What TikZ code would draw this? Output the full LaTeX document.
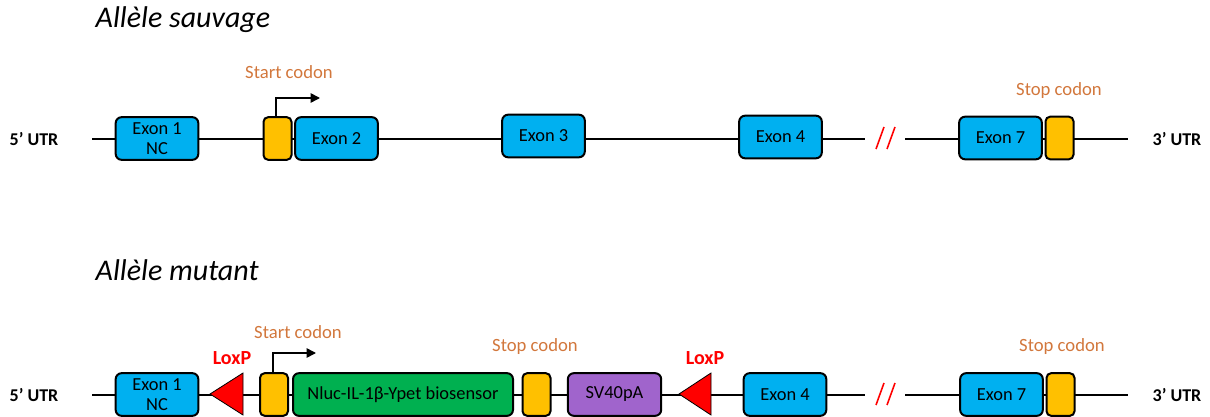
\documentclass[tikz,border=0pt]{standalone}
\usepackage{fontspec}
\setmainfont{Carlito}
\usetikzlibrary{arrows.meta}
\definecolor{exblue}{HTML}{00B0F0}
\definecolor{cdyellow}{HTML}{FFC000}
\definecolor{bsgreen}{HTML}{00B050}
\definecolor{svpurple}{HTML}{A064CC}
\definecolor{cdorange}{HTML}{D2773C}
\definecolor{loxred}{HTML}{FF0000}
\tikzset{
  gene/.style={draw=black, line width=1.5pt, rounded corners=4.5pt, inner sep=0pt, outer sep=0pt, minimum height=32pt, font=\fontsize{13.8}{14.5}\selectfont, align=center},
  exon/.style={gene, fill=exblue, minimum width=62pt},
  codon/.style={gene, fill=cdyellow, minimum width=21pt, rounded corners=3.5pt},
  bio/.style={gene, fill=bsgreen, minimum width=165pt},
  sv/.style={gene, fill=svpurple, minimum width=70pt},
  dna/.style={line width=2pt, black},
  brk/.style={line width=1.2pt, loxred},
  lox/.style={fill=loxred, draw=black, line width=0.6pt},
  utr/.style={font=\fontsize{13.5}{14}\selectfont\bfseries},
  cdlabel/.style={text=cdorange, font=\fontsize{14}{15}\selectfont},
  loxlabel/.style={text=loxred, font=\fontsize{15}{16}\selectfont\bfseries},
  title/.style={font=\fontsize{22.5}{24}\selectfont\itshape, anchor=west},
  tss/.style={line width=1.2pt, -{Triangle[length=7pt,width=7pt]}}
}
\begin{document}
\begin{tikzpicture}[x=0.75pt,y=-0.75pt]
\useasboundingbox (0,0) rectangle (1210,417);
% titles
\node[title] (tw) at (91,20) {Allèle sauvage};
\node[title] (tm) at (91,270) {Allèle mutant};

% ===== wild-type allele =====
\coordinate (wa) at (92,139);
\coordinate (wb1) at (865,139);
\coordinate (wb2) at (905,139);
\coordinate (wc) at (1128,139);
\draw[dna] (wa) -- (wb1);
\draw[dna] (wb2) -- (wc);
\node[utr] (w5) at (34,139) {5’ UTR};
\node[utr] (w3) at (1177,139) {3’ UTR};
\node[exon] (wex1) at (157,138.5) {Exon 1\\NC};
\node[codon] (wstart) at (277.5,138.5) {};
\node[exon] (wex2) at (336.5,138.5) {Exon 2};
\node[exon] (wex3) at (543.5,136) {Exon 3};
\node[exon] (wex4) at (780.5,137) {Exon 4};
\node[exon] (wex7) at (1000.5,138) {Exon 7};
\node[codon] (wstop) at (1059.5,138) {};
\draw[brk] (876,149) -- (884,127);
\draw[brk] (887,149) -- (895,127);
\coordinate (wtss) at (276,117);
\coordinate (wtssend) at (320,98);
\draw[tss] (wtss) |- (wtssend);
\node[cdlabel] (wsc) at (289,72) {Start codon};
\node[cdlabel] (wsp) at (1059,91) {Stop codon};

% ===== mutant allele =====
\coordinate (ma) at (92,395);
\coordinate (mb1) at (865,395);
\coordinate (mb2) at (905,395);
\coordinate (mc) at (1128,395);
\draw[dna] (ma) -- (mb1);
\draw[dna] (mb2) -- (mc);
\node[utr] (m5) at (34,395) {5’ UTR};
\node[utr] (m3) at (1177,395) {3’ UTR};
\node[exon] (mex1) at (157,394.5) {Exon 1\\NC};
\coordinate (l1t) at (210,394);
\coordinate (l1a) at (243,373);
\coordinate (l1b) at (243,415);
\draw[lox] (l1t) -- (l1a) -- (l1b) -- cycle;
\node[loxlabel] (ml1) at (232,358) {LoxP};
\node[codon] (mstart) at (274,394.5) {};
\node[bio] (mbio) at (403,394.5) {Nluc-IL-1β-Ypet biosensor};
\node[codon] (mstop) at (536.5,394.5) {};
\node[sv] (msv) at (614.5,394.5) {SV40pA};
\coordinate (l2t) at (679,394);
\coordinate (l2a) at (711,373);
\coordinate (l2b) at (711,415);
\draw[lox] (l2t) -- (l2a) -- (l2b) -- cycle;
\node[loxlabel] (ml2) at (705,358) {LoxP};
\node[exon] (mex4) at (785,394.5) {Exon 4};
\node[exon] (mex7) at (1001.5,394.5) {Exon 7};
\node[codon] (mstop7) at (1060.5,394.5) {};
\draw[brk] (876,405) -- (884,383);
\draw[brk] (887,405) -- (895,383);
\coordinate (mtss) at (273,374);
\coordinate (mtssend) at (316,353);
\draw[tss] (mtss) |- (mtssend);
\node[cdlabel] (msc) at (298,332) {Start codon};
\node[cdlabel] (msp) at (535,347) {Stop codon};
\node[cdlabel] (msp7) at (1062,347) {Stop codon};
\end{tikzpicture}
\end{document}
